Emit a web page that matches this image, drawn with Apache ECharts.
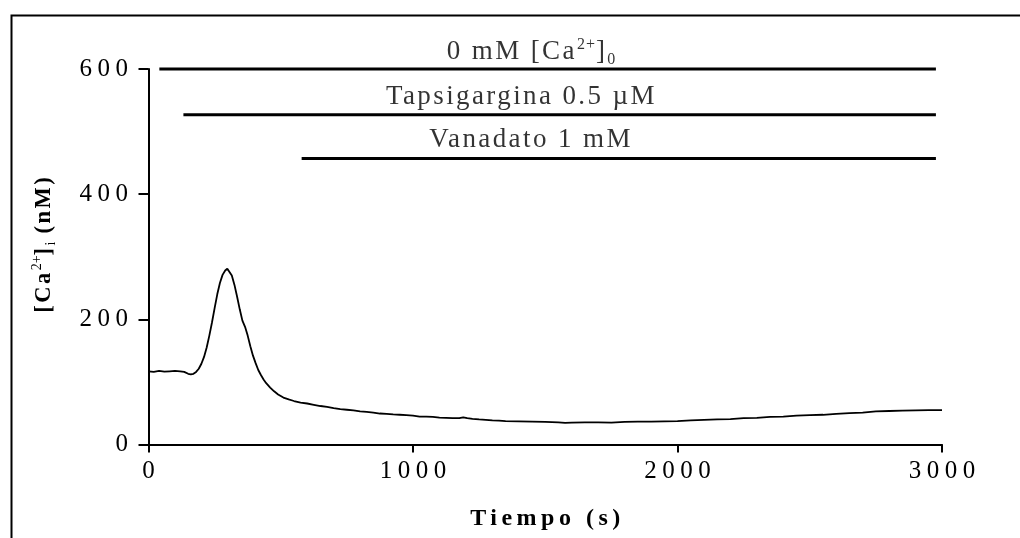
<!DOCTYPE html>
<html>
<head>
<meta charset="utf-8">
<script src="https://cdn.jsdelivr.net/npm/echarts@6/dist/echarts.min.js"></script>
<style>
  html, body { margin: 0; padding: 0; background: #fff; }
  #chart { width: 1020px; height: 538px; }
</style>
</head>
<body>
<div id="chart"></div>
<script>
// ---- data ----
const timeSec = [0,20,40,60,80,100,120,135,150,160,170,180,190,200,210,220,230,240,250,260,270,280,290,298,305,315,325,335,345,355,365,375,385,395,405,415,425,435,445,460,475,490,510,530,550,575,600,625,650,675,700,725,750,775,800,825,850,875,900,925,950,975,1000,1025,1050,1075,1100,1125,1150,1175,1190,1205,1225,1250,1275,1300,1325,1350,1400,1450,1500,1550,1575,1600,1650,1700,1750,1800,1850,1900,1950,2000,2050,2100,2150,2200,2250,2300,2350,2400,2450,2500,2550,2600,2650,2700,2750,2800,2850,2900,2950,3000];
const caNM = [117,116,117.5,116.5,117,117.5,117,116,113,112,113,116,121,129,140,155,174,195,218,240,258,271,278,281,279,270,255,236,216,198,188,174,157,142,130,119,111,104,98,91,85,80,75,72,69.5,67,65.5,63.5,61.5,60,58,56.5,55.5,54.5,53,52,51,49.5,49,48,47.5,47,46,44.5,44.5,44,43,42.5,42,42,43.5,42,41,40,39.5,38.5,38,37.5,37,36.5,36,35.5,34.5,35,35.5,35.5,35,36,36.5,36.5,37,37.5,38.5,39.5,40,40.5,42,42.5,44,44.5,46,47,47.5,49,50,51,53,53.5,54,54.5,55,55];

const barStart = [41, 132, 579];
const barEnd = [2977, 2977, 2977];
const barLevel = [600, 527, 457];

const annotX = [1448, 1410, 1446];
const annotY = [627, 555, 487];
const annotText = ['{n|0 mM [Ca}{sup|2+}{n|]}{sub|0}', 'Tapsigargina 0.5 µM', 'Vanadato 1 mM'];

const xTicks = { min: 0, max: 3000, interval: 1000 };
const yTicks = { min: 0, max: 600, interval: 200 };
const xName = 'Tiempo (s)';
const yName = '{b|[Ca}{sup|2+}{b|]}{sub|i}{b| (nM)}';

// ---- letter spacing (the original figure uses widely tracked type) ----
(function () {
  const proto = CanvasRenderingContext2D.prototype;
  const desc = Object.getOwnPropertyDescriptor(proto, 'font');
  if (!desc || !('letterSpacing' in proto)) return;
  const spacing = [
    [/(^|\s)25px/, '5.5px'],
    [/(^|\s)27px/, '2.4px'],
    [/(^|\s)16px/, '1px'],
    [/(^|\s)24px/, '4.5px'],
    [/(^|\s)22\.5px/, '2.5px']
  ];
  Object.defineProperty(proto, 'font', {
    configurable: true,
    get() { return desc.get.call(this); },
    set(v) {
      desc.set.call(this, v);
      let ls = '0px';
      for (const [re, s] of spacing) { if (re.test(v)) { ls = s; break; } }
      this.letterSpacing = ls;
    }
  });
})();

// ---- chart ----
const FONT = "'Liberation Serif', 'Times New Roman', serif";
const chart = echarts.init(document.getElementById('chart'), null, { renderer: 'canvas' });
const axisLineStyle = { color: '#000', width: 2 };

const series = [{
  type: 'line',
  data: timeSec.map((t, i) => [t, caNM[i]]),
  showSymbol: false,
  symbol: 'none',
  lineStyle: { color: '#000', width: 1.8 },
  clip: false,
  silent: true,
  z: 3
}];
barStart.forEach((s, i) => {
  series.push({
    type: 'line',
    data: [[s, barLevel[i]], [barEnd[i], barLevel[i]]],
    symbol: 'none',
    lineStyle: { color: '#000', width: 3 },
    clip: false,
    silent: true,
    z: 4
  });
});
series.push({
  type: 'scatter',
  data: annotX.map((x, i) => [x, annotY[i]]),
  symbolSize: 1,
  itemStyle: { color: 'rgba(0,0,0,0)' },
  clip: false,
  silent: true,
  label: {
    show: true,
    position: 'inside',
    formatter: p => annotText[p.dataIndex],
    fontFamily: FONT,
    fontSize: 27,
    color: '#000',
    rich: {
      n: { fontFamily: FONT, fontSize: 27, lineHeight: 32, color: '#000' },
      sup: { fontFamily: FONT, fontSize: 16, lineHeight: 16, verticalAlign: 'top', color: '#000' },
      sub: { fontFamily: FONT, fontSize: 16, lineHeight: 14, verticalAlign: 'bottom', color: '#000' }
    }
  },
  z: 5
});

chart.setOption({
  animation: false,
  backgroundColor: '#fff',
  grid: { left: 148.5, right: 78, top: 69, bottom: 91 },
  graphic: [{
    type: 'rect',
    left: 9, top: 13,
    shape: { width: 1100, height: 600 },
    style: { fill: 'none', stroke: '#000', lineWidth: 2 },
    silent: true
  }],
  xAxis: {
    type: 'value',
    min: xTicks.min, max: xTicks.max, interval: xTicks.interval,
    axisLine: { show: true, onZero: false, lineStyle: axisLineStyle },
    axisTick: { show: true, length: 8, lineStyle: axisLineStyle },
    splitLine: { show: false },
    axisLabel: { fontFamily: FONT, fontSize: 25, color: '#000', margin: 12, padding: [0, 0, 0, 5.5], formatter: v => String(v) },
    name: xName,
    nameLocation: 'middle',
    nameGap: 60,
    nameTextStyle: { fontFamily: FONT, fontSize: 24, fontWeight: 'bold', color: '#000', padding: [0, 0, 0, 4.5] }
  },
  yAxis: {
    type: 'value',
    min: yTicks.min, max: yTicks.max, interval: yTicks.interval,
    axisLine: { show: true, lineStyle: axisLineStyle },
    axisTick: { show: true, length: 10, lineStyle: axisLineStyle },
    splitLine: { show: false },
    axisLabel: { fontFamily: FONT, fontSize: 25, color: '#000', margin: 15, formatter: v => String(v) },
    name: yName,
    nameLocation: 'middle',
    nameGap: 90,
    nameRotate: 90,
    nameTextStyle: {
      padding: [0, 0, 0, 26],
      rich: {
        b: { fontFamily: FONT, fontSize: 22.5, fontWeight: 'bold', lineHeight: 28, color: '#000' },
        sup: { fontFamily: FONT, fontSize: 14, lineHeight: 14, verticalAlign: 'top', color: '#000' },
        sub: { fontFamily: FONT, fontSize: 14, lineHeight: 14, verticalAlign: 'bottom', color: '#000' }
      }
    }
  },
  series: series
});
</script>
</body>
</html>
